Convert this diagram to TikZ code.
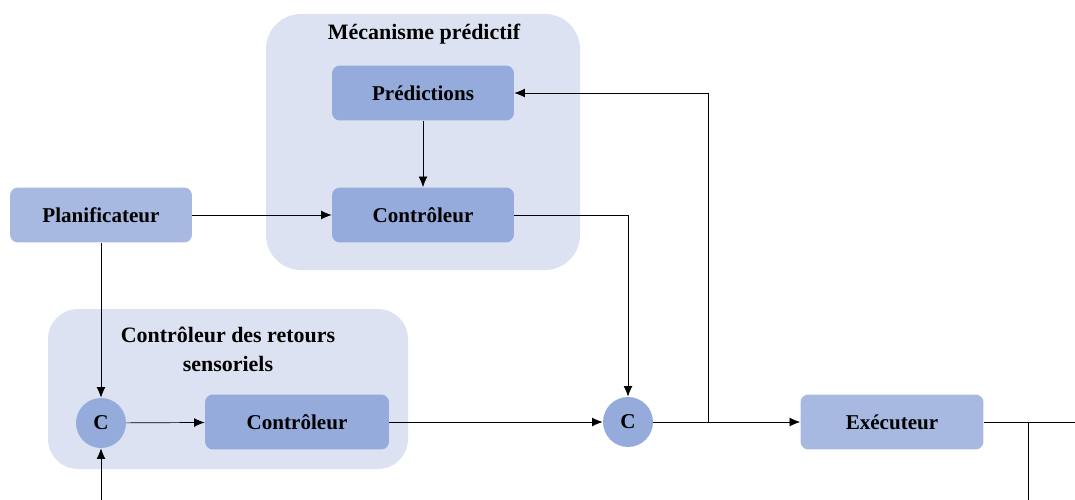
\documentclass[tikz,border=0pt]{standalone}
\usepackage{fontspec}
\setmainfont{Liberation Serif}
\usepackage{tikz}
\usetikzlibrary{arrows.meta}

\definecolor{zone}{HTML}{DCE2F2}
\definecolor{boxdark}{HTML}{95ABDB}
\definecolor{boxlight}{HTML}{A7B9E1}

\tikzset{
  bloc/.style = {rectangle, rounded corners=4.5pt, minimum width=3.64cm, minimum height=1.1cm, font=\bfseries\fontsize{12}{14}\selectfont},
  comp/.style = {circle, fill=boxdark, minimum size=1cm, inner sep=0pt, font=\bfseries\fontsize{12}{14}\selectfont},
  titre/.style = {font=\bfseries\fontsize{12.5}{16.5}\selectfont, align=center},
  fleche/.style = {-{Latex[length=6pt,width=5pt]}, thin},
}

\begin{document}
\begin{tikzpicture}[x=0.02cm, y=-0.02cm]
\useasboundingbox (0,0) rectangle (1075,500);
% zones
\draw [fill=zone, draw=none, rounded corners=0.7cm] (266,14) rectangle (580,270);
\node [titre] (titrePred) at (424,34) {Mécanisme prédictif};
\draw [fill=zone, draw=none, rounded corners=0.6cm] (48,309) rectangle (408,469);
\node [titre] (titreRetours) at (228,349) {Contrôleur des retours\\sensoriels};
% blocs
\node [bloc, fill=boxdark] (pred) at (423,93) {Prédictions};
\node [bloc, fill=boxdark] (ctrlHaut) at (423,215) {Contrôleur};
\node [bloc, fill=boxlight] (plan) at (101,215) {Planificateur};
\node [comp] (cGauche) at (101,423) {C};
\node [bloc, fill=boxdark, minimum width=3.68cm] (ctrlBas) at (297,422) {Contrôleur};
\node [comp] (cMilieu) at (628,422) {C};
\node [bloc, fill=boxlight, minimum width=3.66cm] (exec) at (892,422) {Exécuteur};
% points libres
\coordinate (basGauche) at (101,500);
\coordinate (jonctionA) at (708,422);
\coordinate (jonctionB) at (1028,422);
\coordinate (sortie) at (1075,422);
\coordinate (basDroite) at (1028,500);
% liaisons
\draw [fleche] (pred) -- (ctrlHaut);
\draw [fleche] (plan) -- (ctrlHaut);
\draw [fleche] (plan) -- (cGauche);
\draw [fleche] (basGauche) -- (cGauche);
\draw [fleche] (cGauche) -- (ctrlBas);
\draw [fleche] (ctrlBas) -- (cMilieu);
\draw [fleche] (ctrlHaut.east) -| (cMilieu.north);
\draw [fleche] (cMilieu) -- (exec);
\draw [fleche] (jonctionA) |- (pred.east);
\draw (exec.east) -- (sortie);
\draw (jonctionB) -- (basDroite);
\end{tikzpicture}
\end{document}
